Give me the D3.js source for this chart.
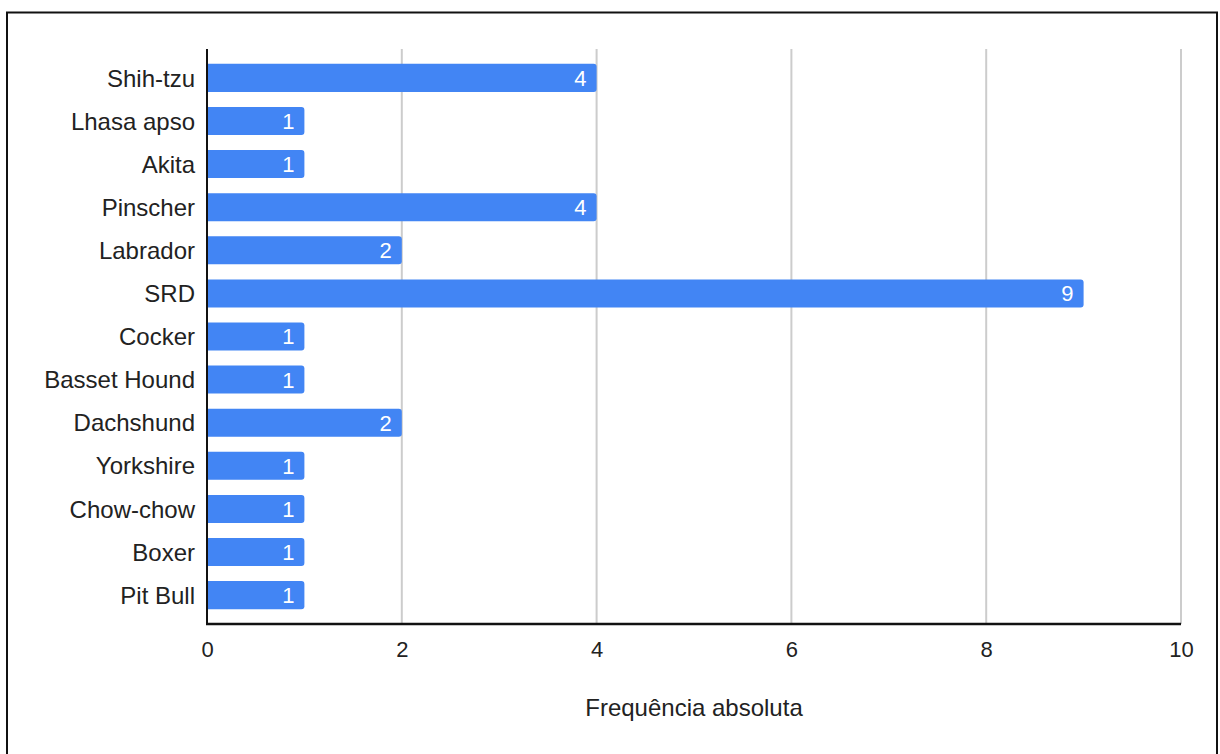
<!DOCTYPE html>
<html>
<head>
<meta charset="utf-8">
<script src="https://cdn.jsdelivr.net/npm/d3@7"></script>
<style>
  html, body { margin: 0; padding: 0; background: #fff; }
  svg { display: block; font-family: "Liberation Sans", Arial, sans-serif; }
</style>
</head>
<body>
<svg id="chart" width="1220" height="754"></svg>
<script>
const breeds = ["Shih-tzu", "Lhasa apso", "Akita", "Pinscher", "Labrador", "SRD", "Cocker",
  "Basset Hound", "Dachshund", "Yorkshire", "Chow-chow", "Boxer", "Pit Bull"];
const counts = [4, 1, 1, 4, 2, 9, 1, 1, 2, 1, 1, 1, 1];
const xTicks = [0, 2, 4, 6, 8, 10];
const xTitle = "Frequência absoluta";

const svg = d3.select("#chart");

// outer frame (open at the bottom edge)
svg.append("path")
  .attr("d", "M7,760 V12.5 H1217 V760")
  .attr("fill", "none").attr("stroke", "#111").attr("stroke-width", 2);

const plotLeft = 207, plotRight = 1181, plotTop = 49, plotBottom = 624;

const x = d3.scaleLinear().domain([0, 10]).range([plotLeft, plotRight]);
const y = d3.scaleBand().domain(breeds).range([plotTop, plotBottom])
  .paddingInner(0.35).paddingOuter(0.345);

// vertical gridlines
svg.append("g").selectAll("line").data(xTicks.filter(t => t > 0)).join("line")
  .attr("x1", d => x(d)).attr("x2", d => x(d))
  .attr("y1", plotTop).attr("y2", plotBottom)
  .attr("stroke", "#cccccc").attr("stroke-width", 2);

// bars with rounded right end
const r = 3;
svg.append("g").selectAll("path").data(breeds).join("path")
  .attr("fill", "#4285F4")
  .attr("d", (d, i) => {
    const x0 = x(0), x1 = x(counts[i]), y0 = y(d), h = y.bandwidth();
    return `M${x0},${y0} H${x1 - r} Q${x1},${y0} ${x1},${y0 + r} V${y0 + h - r} Q${x1},${y0 + h} ${x1 - r},${y0 + h} H${x0} Z`;
  });

// value labels inside the bars
svg.append("g").selectAll("text").data(breeds).join("text")
  .attr("x", (d, i) => x(counts[i]) - 10)
  .attr("y", d => y(d) + y.bandwidth() / 2)
  .attr("dy", "0.36em")
  .attr("text-anchor", "end")
  .attr("fill", "#fff")
  .attr("font-size", 22)
  .text((d, i) => counts[i]);

// category labels
svg.append("g").selectAll("text").data(breeds).join("text")
  .attr("x", plotLeft - 12)
  .attr("y", d => y(d) + y.bandwidth() / 2)
  .attr("dy", "0.36em")
  .attr("text-anchor", "end")
  .attr("fill", "#222")
  .attr("font-size", 24)
  .text(d => d);

// axes lines
svg.append("line").attr("x1", plotLeft).attr("x2", plotLeft).attr("y1", plotTop).attr("y2", plotBottom + 1)
  .attr("stroke", "#111").attr("stroke-width", 2);
const xAxis = svg.append("g").attr("transform", `translate(0,${plotBottom})`)
  .call(d3.axisBottom(x).tickValues(xTicks).tickSize(0).tickPadding(17));
xAxis.select(".domain").attr("stroke", "#111").attr("stroke-width", 2.5).attr("d", `M${plotLeft - 1},0H${plotRight}`);
xAxis.selectAll("text").attr("font-size", 22).attr("fill", "#222")
  .attr("font-family", "'Liberation Sans', Arial, sans-serif");

// axis title
svg.append("text")
  .attr("x", (plotLeft + plotRight) / 2).attr("y", 716)
  .attr("text-anchor", "middle").attr("fill", "#222").attr("font-size", 24)
  .text(xTitle);
</script>
</body>
</html>
